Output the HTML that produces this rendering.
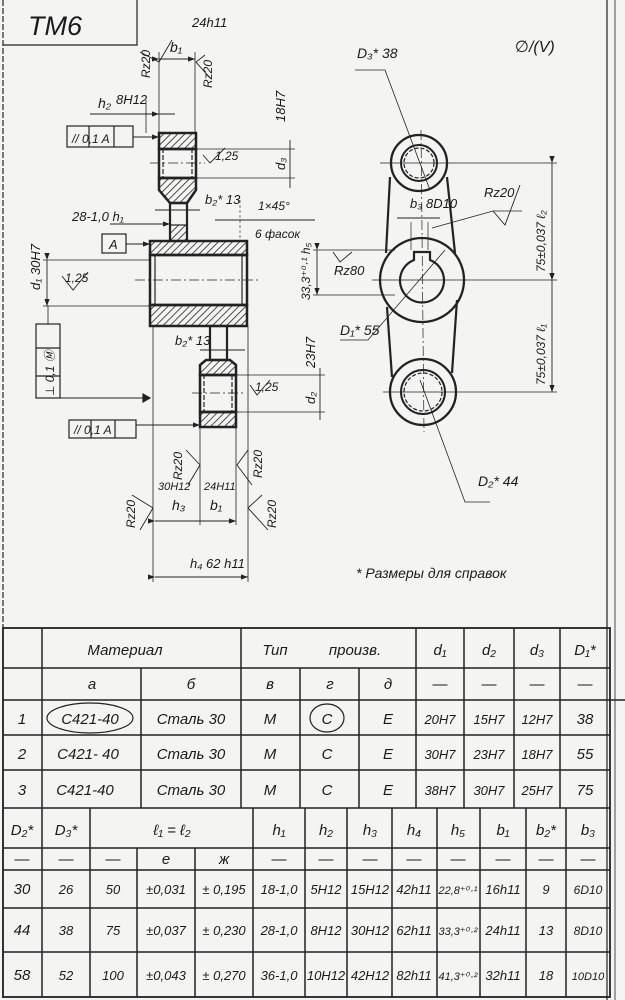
<!DOCTYPE html>
<html><head><meta charset="utf-8"><style>
html,body{margin:0;padding:0;background:#f4f4f2}
svg{display:block}
text{font-family:"Liberation Sans","DejaVu Sans",sans-serif;font-style:italic;fill:#1a1a1a}
</style></head><body>
<svg width="625" height="1000" viewBox="0 0 625 1000" xmlns="http://www.w3.org/2000/svg">
<defs>
<pattern id="h" width="5" height="5" patternUnits="userSpaceOnUse" patternTransform="rotate(45)"><line x1="0" y1="0" x2="0" y2="5" stroke="#222" stroke-width="1.6"/></pattern>
<marker id="a" markerWidth="8" markerHeight="6" refX="8" refY="3" orient="auto"><path d="M0,0 L8,3 L0,6z" fill="#222"/></marker>
</defs>
<rect width="625" height="1000" fill="#f4f4f2"/>
<g stroke="#222" fill="none" stroke-width="1.2">
<line x1="3" y1="0" x2="3" y2="1000" stroke-dasharray="6,2"/>
<line x1="607" y1="0" x2="607" y2="1000"/>
<line x1="615" y1="0" x2="615" y2="1000" stroke-width="0.8"/>
<polyline points="3,45 137,45 137,0"/>
<rect x="159" y="133" width="37" height="16" fill="url(#h)" stroke-width="2.5"/>
<rect x="159" y="149" width="37" height="29" stroke-width="2.5"/>
<rect x="163" y="149" width="29" height="29" stroke-dasharray="5,2"/>
<path d="M159,178 L196,178 L196,190 L187,203 L170,203 L159,190Z" fill="url(#h)" stroke-width="2.5"/>
<rect x="170" y="203" width="17" height="38" stroke-width="2.2"/>
<rect x="170" y="225" width="17" height="16" fill="url(#h)"/>
<rect x="150" y="241" width="97" height="14" fill="url(#h)" stroke-width="2.5"/>
<rect x="150" y="255" width="97" height="50" stroke-width="2.5"/>
<line x1="155" y1="255" x2="155" y2="305"/><line x1="242" y1="255" x2="242" y2="305"/>
<rect x="150" y="305" width="97" height="21" fill="url(#h)" stroke-width="2.5"/>
<rect x="210" y="326" width="17" height="34" stroke-width="2.2"/>
<path d="M200,375 L200,365 L206,360 L230,360 L236,365 L236,375Z" fill="url(#h)" stroke-width="2.5"/>
<rect x="200" y="375" width="36" height="37" stroke-width="2.5"/>
<rect x="204" y="375" width="28" height="37" stroke-dasharray="5,2"/>
<rect x="200" y="412" width="36" height="15" fill="url(#h)" stroke-width="2.5"/>
<line x1="150" y1="163" x2="205" y2="163" stroke-dasharray="10,3,2,3" stroke-width="0.8"/>
<line x1="135" y1="280" x2="260" y2="280" stroke-dasharray="10,3,2,3" stroke-width="0.8"/>
<line x1="192" y1="393" x2="244" y2="393" stroke-dasharray="10,3,2,3" stroke-width="0.8"/>
<line x1="159" y1="52" x2="159" y2="133" stroke-width="0.8"/>
<line x1="195" y1="52" x2="195" y2="133" stroke-width="0.8"/>
<line x1="153" y1="326" x2="153" y2="582" stroke-width="0.8"/>
<line x1="248" y1="326" x2="248" y2="582" stroke-width="0.8"/>
<line x1="200" y1="427" x2="200" y2="525" stroke-width="0.8"/>
<line x1="236" y1="427" x2="236" y2="525" stroke-width="0.8"/>
<line x1="159" y1="59" x2="195" y2="59" stroke-width="0.9" marker-start="url(#a)" marker-end="url(#a)"/>
<line x1="90" y1="114" x2="159" y2="114" stroke-width="0.9" marker-end="url(#a)"/>
<line x1="175" y1="114" x2="148" y2="114" stroke-width="0.9"/>
<line x1="146" y1="100" x2="146" y2="133" stroke-width="0.8"/>
<line x1="133" y1="137" x2="159" y2="137" stroke-width="0.9" marker-end="url(#a)"/>
<line x1="196" y1="149" x2="295" y2="149" stroke-width="0.8"/>
<line x1="196" y1="178" x2="295" y2="178" stroke-width="0.8"/>
<line x1="290" y1="140" x2="290" y2="188" stroke-width="0.9"/>
<line x1="155" y1="210" x2="200" y2="210" stroke-width="0.9"/>
<line x1="110" y1="224" x2="170" y2="224" stroke-width="0.9" marker-end="url(#a)"/>
<line x1="215" y1="220" x2="315" y2="220" stroke-width="0.9"/>
<line x1="240" y1="200" x2="240" y2="241" stroke-width="0.6" stroke-dasharray="3,2"/>
<line x1="126" y1="244" x2="150" y2="244" stroke-width="0.9" marker-end="url(#a)"/>
<line x1="43" y1="260" x2="150" y2="260" stroke-width="0.8"/>
<line x1="43" y1="306" x2="150" y2="306" stroke-width="0.8"/>
<line x1="47" y1="260" x2="47" y2="306" stroke-width="0.9" marker-start="url(#a)" marker-end="url(#a)"/>
<polyline points="48,398 148,398" stroke-width="0.9"/>
<path d="M143,394 L150,398 L143,402Z" fill="#222"/>
<line x1="48" y1="306" x2="48" y2="324" stroke-width="0.8"/>
<line x1="200" y1="350" x2="245" y2="350" stroke-width="0.9"/>
<line x1="236" y1="375" x2="325" y2="375" stroke-width="0.8"/>
<line x1="236" y1="412" x2="325" y2="412" stroke-width="0.8"/>
<line x1="320" y1="368" x2="320" y2="420" stroke-width="0.9"/>
<line x1="136" y1="425" x2="200" y2="425" stroke-width="0.9" marker-end="url(#a)"/>
<line x1="155" y1="521" x2="236" y2="521" stroke-width="0.9" marker-start="url(#a)" marker-end="url(#a)"/>
<line x1="155" y1="577" x2="248" y2="577" stroke-width="0.9" marker-start="url(#a)" marker-end="url(#a)"/>
<polyline points="140,52 159,62 172,40" stroke-width="0.9"/>
<polyline points="205,55 196,62 210,78" stroke-width="0.9"/>
<polyline points="203,155 210,163 225,148" stroke-width="0.9"/>
<polyline points="62,276 73,290 88,272" stroke-width="0.9"/>
<polyline points="250,385 257,395 270,380" stroke-width="0.9"/>
<polyline points="186,450 200,465 188,485" stroke-width="0.9"/>
<polyline points="248,450 237,465 252,485" stroke-width="0.9"/>
<polyline points="132,495 153,508 140,530" stroke-width="0.9"/>
<polyline points="262,495 248,508 268,530" stroke-width="0.9"/>
<rect x="67" y="126" width="66" height="21"/><line x1="89" y1="126" x2="89" y2="147"/><line x1="114" y1="126" x2="114" y2="147"/>
<rect x="102" y="234" width="24" height="19"/>
<rect x="36" y="324" width="24" height="74"/><line x1="36" y1="376" x2="60" y2="376"/><line x1="36" y1="348" x2="60" y2="348"/>
<rect x="69" y="420" width="67" height="18"/><line x1="91" y1="420" x2="91" y2="438"/><line x1="115" y1="420" x2="115" y2="438"/>
<circle cx="419" cy="163" r="28" stroke-width="2.3"/>
<circle cx="419" cy="163" r="18" stroke-width="2"/>
<circle cx="419" cy="163" r="15" stroke-dasharray="4,2"/>
<circle cx="422" cy="280" r="42" stroke-width="2.3"/>
<path d="M414,260 A22,22 0 1,0 430,260 L430,252 L414,252Z" stroke-width="2.2"/>
<circle cx="423" cy="392" r="33" stroke-width="2.3"/>
<circle cx="423" cy="392" r="22" stroke-width="2"/>
<circle cx="423" cy="392" r="19" stroke-dasharray="4,2"/>
<line x1="390" y1="177" x2="386" y2="253" stroke-width="2.2"/>
<line x1="447" y1="177" x2="455" y2="253" stroke-width="2.2"/>
<line x1="387" y1="307" x2="392" y2="377" stroke-width="2.2"/>
<line x1="457" y1="300" x2="452" y2="373" stroke-width="2.2"/>
<line x1="380" y1="163" x2="557" y2="163" stroke-width="0.8"/>
<line x1="372" y1="280" x2="557" y2="280" stroke-width="0.8"/>
<line x1="383" y1="392" x2="557" y2="392" stroke-width="0.8"/>
<line x1="421" y1="130" x2="424" y2="432" stroke-width="0.7" stroke-dasharray="10,3,2,3"/>
<line x1="552" y1="163" x2="552" y2="280" stroke-width="0.9" marker-start="url(#a)" marker-end="url(#a)"/>
<line x1="552" y1="280" x2="552" y2="392" stroke-width="0.9" marker-start="url(#a)" marker-end="url(#a)"/>
<line x1="313" y1="250" x2="395" y2="250" stroke-width="0.8"/>
<line x1="313" y1="295" x2="395" y2="295" stroke-width="0.8"/>
<line x1="317" y1="250" x2="317" y2="295" stroke-width="0.9" marker-start="url(#a)" marker-end="url(#a)"/>
<line x1="397" y1="218" x2="440" y2="218" stroke-width="0.9"/>
<line x1="411" y1="222" x2="411" y2="250" stroke-width="0.7"/><line x1="428" y1="222" x2="428" y2="250" stroke-width="0.7"/>
<polyline points="355,70 385,70 430,190" stroke-width="0.8"/>
<polyline points="340,340 368,340 445,250" stroke-width="0.8"/>
<polyline points="490,502 465,502 420,380" stroke-width="0.8"/>
<polyline points="522,211 493,211 432,228" stroke-width="0.8"/>
<polyline points="493,211 505,225 520,185" stroke-width="0.9"/>
<polyline points="333,252 340,262 352,252" stroke-width="0.9"/>
<rect x="3" y="628" width="607" height="369" stroke-width="1.8"/>
<g stroke-width="1.5">
<line x1="3" y1="668" x2="610" y2="668"/><line x1="3" y1="700" x2="625" y2="700"/>
<line x1="3" y1="735" x2="610" y2="735"/><line x1="3" y1="770" x2="610" y2="770"/>
<line x1="3" y1="808" x2="610" y2="808"/><line x1="3" y1="848" x2="610" y2="848"/>
<line x1="3" y1="870" x2="610" y2="870"/><line x1="3" y1="908" x2="610" y2="908"/>
<line x1="3" y1="952" x2="610" y2="952"/>
<line x1="42" y1="628" x2="42" y2="808"/><line x1="141" y1="668" x2="141" y2="808"/>
<line x1="241" y1="628" x2="241" y2="808"/><line x1="300" y1="668" x2="300" y2="808"/>
<line x1="359" y1="668" x2="359" y2="808"/><line x1="416" y1="628" x2="416" y2="808"/>
<line x1="464" y1="628" x2="464" y2="808"/><line x1="514" y1="628" x2="514" y2="808"/>
<line x1="560" y1="628" x2="560" y2="808"/>
<line x1="42" y1="808" x2="42" y2="997"/><line x1="90" y1="808" x2="90" y2="997"/>
<line x1="137" y1="848" x2="137" y2="997"/><line x1="195" y1="848" x2="195" y2="997"/>
<line x1="253" y1="808" x2="253" y2="997"/><line x1="305" y1="808" x2="305" y2="997"/>
<line x1="347" y1="808" x2="347" y2="997"/><line x1="392" y1="808" x2="392" y2="997"/>
<line x1="437" y1="808" x2="437" y2="997"/><line x1="480" y1="808" x2="480" y2="997"/>
<line x1="526" y1="808" x2="526" y2="997"/><line x1="566" y1="808" x2="566" y2="997"/>
</g>
<ellipse cx="90" cy="718" rx="43" ry="15"/>
<ellipse cx="327" cy="718" rx="17" ry="14"/>
</g>
<g font-size="13">
<text x="28" y="35" font-size="27" font-style="normal">TM6</text>
<text x="170" y="52" font-size="14">b₁</text><text x="192" y="27">24h11</text>
<text x="98" y="108" font-size="14">h₂</text><text x="116" y="104">8H12</text>
<text x="142" y="70" font-size="12" transform="rotate(-90 150 70)">Rz20</text>
<text x="212" y="88" font-size="12" transform="rotate(-90 212 88)">Rz20</text>
<text x="72" y="143" font-style="normal" font-size="12">//  0,1  A</text>
<text x="215" y="160" font-size="12">1,25</text>
<text x="285" y="170" transform="rotate(-90 285 170)">d₃</text>
<text x="285" y="122" transform="rotate(-90 285 122)">18H7</text>
<text x="205" y="204">b₂* 13</text>
<text x="72" y="221">28-1,0 h₁</text>
<text x="258" y="210" font-size="12">1×45°</text>
<text x="255" y="238" font-size="12">6 фасок</text>
<text x="109" y="249" font-style="normal">A</text>
<text x="40" y="290" transform="rotate(-90 40 290)">d₁ 30H7</text>
<text x="65" y="282" font-size="12">1,25</text>
<text x="54" y="396" font-style="normal" font-size="12" transform="rotate(-90 54 396)">⊥  0,1 Ⓜ</text>
<text x="175" y="345">b₂* 13</text>
<text x="255" y="391" font-size="12">1,25</text>
<text x="315" y="404" transform="rotate(-90 315 404)">d₂</text>
<text x="315" y="368" transform="rotate(-90 315 368)">23H7</text>
<text x="74" y="434" font-style="normal" font-size="12">//  0,1  A</text>
<text x="182" y="480" font-size="12" transform="rotate(-90 182 480)">Rz20</text>
<text x="262" y="478" font-size="12" transform="rotate(-90 262 478)">Rz20</text>
<text x="135" y="528" font-size="12" transform="rotate(-90 135 528)">Rz20</text>
<text x="276" y="528" font-size="12" transform="rotate(-90 276 528)">Rz20</text>
<text x="158" y="490" font-size="11">30H12</text><text x="204" y="490" font-size="11">24H11</text>
<text x="172" y="510" font-size="14">h₃</text><text x="210" y="510" font-size="14">b₁</text>
<text x="190" y="568">h₄ 62 h11</text>
<text x="357" y="58" font-size="14">D₃* 38</text>
<text x="515" y="52" font-size="16" font-style="normal">∅/(V)</text>
<text x="484" y="197">Rz20</text>
<text x="410" y="208">b₃ 8D10</text>
<text x="334" y="275">Rz80</text>
<text x="340" y="335" font-size="14">D₁* 55</text>
<text x="478" y="486" font-size="14">D₂* 44</text>
<text x="310" y="300" font-size="12" transform="rotate(-90 310 300)">33,3⁺⁰·¹ h₅</text>
<text x="545" y="272" font-size="12" transform="rotate(-90 545 272)">75±0,037 ℓ₂</text>
<text x="545" y="385" font-size="12" transform="rotate(-90 545 385)">75±0,037 ℓ₁</text>
<text x="356" y="578" font-size="14">* Размеры  для  справок</text>
</g>
<g font-size="15" text-anchor="middle">
<text x="125" y="655">Материал</text><text x="275" y="655">Тип</text><text x="355" y="655">произв.</text>
<text x="440" y="655">d₁</text><text x="489" y="655">d₂</text><text x="537" y="655">d₃</text><text x="585" y="655">D₁*</text>
<text x="92" y="689">а</text><text x="191" y="689">б</text><text x="270" y="689">в</text><text x="330" y="689">г</text><text x="388" y="689">д</text>
<text x="440" y="689">—</text><text x="489" y="689">—</text><text x="537" y="689">—</text><text x="585" y="689">—</text>
<text x="22" y="724">1</text><text x="90" y="724">С421-40</text><text x="191" y="724">Сталь 30</text><text x="270" y="724">М</text><text x="327" y="724">С</text><text x="388" y="724">Е</text>
<text x="440" y="724" font-size="13">20H7</text><text x="489" y="724" font-size="13">15H7</text><text x="537" y="724" font-size="13">12H7</text><text x="585" y="724">38</text>
<text x="22" y="759">2</text><text x="88" y="759">С421- 40</text><text x="191" y="759">Сталь 30</text><text x="270" y="759">М</text><text x="327" y="759">С</text><text x="388" y="759">Е</text>
<text x="440" y="759" font-size="13">30H7</text><text x="489" y="759" font-size="13">23H7</text><text x="537" y="759" font-size="13">18H7</text><text x="585" y="759">55</text>
<text x="22" y="795">3</text><text x="85" y="795">С421-40</text><text x="191" y="795">Сталь 30</text><text x="270" y="795">М</text><text x="327" y="795">С</text><text x="388" y="795">Е</text>
<text x="440" y="795" font-size="13">38H7</text><text x="489" y="795" font-size="13">30H7</text><text x="537" y="795" font-size="13">25H7</text><text x="585" y="795">75</text>
<text x="22" y="835">D₂*</text><text x="66" y="835">D₃*</text><text x="172" y="835">ℓ₁ = ℓ₂</text>
<text x="279" y="835">h₁</text><text x="326" y="835">h₂</text><text x="370" y="835">h₃</text><text x="414" y="835">h₄</text><text x="458" y="835">h₅</text><text x="503" y="835">b₁</text><text x="546" y="835">b₂*</text><text x="588" y="835">b₃</text>
<text x="22" y="864">—</text><text x="66" y="864">—</text><text x="113" y="864">—</text><text x="166" y="864">е</text><text x="224" y="864">ж</text>
<text x="279" y="864">—</text><text x="326" y="864">—</text><text x="370" y="864">—</text><text x="414" y="864">—</text><text x="458" y="864">—</text><text x="503" y="864">—</text><text x="546" y="864">—</text><text x="588" y="864">—</text>
</g>
<g font-size="13" text-anchor="middle">
<text x="22" y="894" font-size="15">30</text><text x="66" y="894">26</text><text x="113" y="894">50</text><text x="166" y="894">±0,031</text><text x="224" y="894">± 0,195</text>
<text x="279" y="894">18-1,0</text><text x="326" y="894">5H12</text><text x="370" y="894">15H12</text><text x="414" y="894">42h11</text><text x="458" y="894" font-size="11">22,8⁺⁰·¹</text><text x="503" y="894">16h11</text><text x="546" y="894">9</text><text x="588" y="894" font-size="12">6D10</text>
<text x="22" y="935" font-size="15">44</text><text x="66" y="935">38</text><text x="113" y="935">75</text><text x="166" y="935">±0,037</text><text x="224" y="935">± 0,230</text>
<text x="279" y="935">28-1,0</text><text x="326" y="935">8H12</text><text x="370" y="935">30H12</text><text x="414" y="935">62h11</text><text x="458" y="935" font-size="11">33,3⁺⁰·²</text><text x="503" y="935">24h11</text><text x="546" y="935">13</text><text x="588" y="935" font-size="12">8D10</text>
<text x="22" y="980" font-size="15">58</text><text x="66" y="980">52</text><text x="113" y="980">100</text><text x="166" y="980">±0,043</text><text x="224" y="980">± 0,270</text>
<text x="279" y="980">36-1,0</text><text x="326" y="980">10H12</text><text x="370" y="980">42H12</text><text x="414" y="980">82h11</text><text x="458" y="980" font-size="11">41,3⁺⁰·²</text><text x="503" y="980">32h11</text><text x="546" y="980">18</text><text x="588" y="980" font-size="11">10D10</text>
</g>
</svg>
</body></html>
